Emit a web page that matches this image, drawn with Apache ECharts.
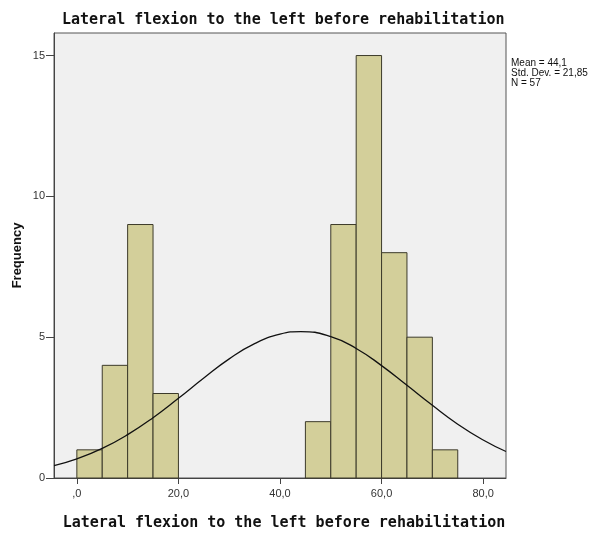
<!DOCTYPE html>
<html>
<head>
<meta charset="utf-8">
<script src="https://cdn.jsdelivr.net/npm/echarts@6/dist/echarts.min.js"></script>
<style>
html,body{margin:0;padding:0;background:#fff;}
#chart{width:602px;height:533px;}
</style>
</head>
<body>
<div id="chart"></div>
<script>
// Histogram bins (start, end) and frequencies
var binStarts = [0, 5, 10, 15, 45, 50, 55, 60, 65, 70];
var binEnds   = [5, 10, 15, 20, 50, 55, 60, 65, 70, 75];
var counts    = [1, 4, 9, 3, 2, 9, 15, 8, 5, 1];

// Normal curve points
var curveX = [-4.5, 0, 5, 10, 15, 20, 25, 30, 35, 40, 44.1, 50, 55, 60, 65, 70, 75, 80, 84.5];
var curveY = [0.44, 0.68, 1.05, 1.54, 2.14, 2.83, 3.55, 4.23, 4.77, 5.11, 5.20, 5.02, 4.60, 3.99, 3.29, 2.58, 1.91, 1.35, 0.94];

var yTicks = [0, 5, 10, 15];
var xTicks = [0, 20, 40, 60, 80];
var statsLines = ['Mean = 44,1', 'Std. Dev. = 21,85', 'N = 57'];
var titleText = 'Lateral flexion to the left before rehabilitation';
var xName = 'Lateral flexion to the left before rehabilitation';
var yName = 'Frequency';

var barData = binStarts.map(function (s, i) { return [s, binEnds[i], counts[i]]; });
var curveData = curveX.map(function (x, i) { return [x, curveY[i]]; });

var chart = echarts.init(document.getElementById('chart'), null, {renderer: 'canvas'});
var axisColor = '#444';
chart.setOption({
  animation: false,
  backgroundColor: '#fff',
  title: {
    text: titleText,
    left: 57, top: 8,
    textStyle: {fontFamily: 'DejaVu Sans Mono', fontWeight: 'bold', fontSize: 15, color: '#111'}
  },
  grid: {
    left: 54, right: 96, top: 33, bottom: 55,
    outerBoundsMode: 'none', containLabel: false,
    show: true, backgroundColor: '#f0f0f0', borderColor: '#555', borderWidth: 1
  },
  xAxis: {
    type: 'value', min: -4.5, max: 84.5, splitNumber: 5, minInterval: 20, maxInterval: 20,
    name: xName, nameLocation: 'middle', nameGap: 38, nameMoveOverlap: false,
    nameTextStyle: {fontFamily: 'DejaVu Sans Mono', fontWeight: 'bold', fontSize: 15, color: '#111', padding: [0, 0, 0, 8]},
    axisLine: {show: true, onZero: false, lineStyle: {color: axisColor}},
    axisTick: {show: true, length: 6, customValues: xTicks, lineStyle: {color: axisColor}},
    splitLine: {show: false},
    axisLabel: {
      color: '#333', fontFamily: 'Liberation Sans', fontSize: 11, margin: 10,
      customValues: xTicks,
      formatter: function (v) {
        if (xTicks.indexOf(v) < 0) return '';
        return v === 0 ? ',0' : v.toFixed(1).replace('.', ',');
      }
    }
  },
  yAxis: {
    type: 'value', min: 0, max: 15.8, interval: 5,
    name: yName, nameLocation: 'middle', nameGap: 30, nameMoveOverlap: false,
    nameTextStyle: {fontFamily: 'Liberation Sans', fontWeight: 'bold', fontSize: 13, color: '#111'},
    axisLine: {show: true, onZero: false, lineStyle: {color: axisColor}},
    axisTick: {show: true, length: 8, customValues: yTicks, lineStyle: {color: axisColor}},
    splitLine: {show: false},
    axisLabel: {
      color: '#333', fontFamily: 'Liberation Sans', fontSize: 11, margin: 9,
      customValues: yTicks,
      formatter: function (v) { return yTicks.indexOf(v) < 0 ? '' : String(v); }
    }
  },
  series: [
    {
      type: 'custom',
      data: barData,
      encode: {x: [0, 1], y: 2},
      renderItem: function (params, api) {
        var p0 = api.coord([api.value(0), 0]);
        var p1 = api.coord([api.value(1), api.value(2)]);
        return {
          type: 'rect',
          shape: {x: p0[0], y: p1[1], width: p1[0] - p0[0], height: p0[1] - p1[1]},
          style: {fill: '#d3cf9a', stroke: '#3c3a2a', lineWidth: 1}
        };
      },
      z: 2
    },
    {
      type: 'line',
      data: curveData,
      smooth: true,
      showSymbol: false,
      lineStyle: {color: '#111', width: 1.3},
      z: 3
    }
  ],
  graphic: [
    {
      type: 'text', left: 511, top: 58,
      style: {
        text: statsLines.join('\n'),
        fontFamily: 'Liberation Sans', fontSize: 10, lineHeight: 10, fill: '#111'
      }
    }
  ]
});
</script>
</body>
</html>
